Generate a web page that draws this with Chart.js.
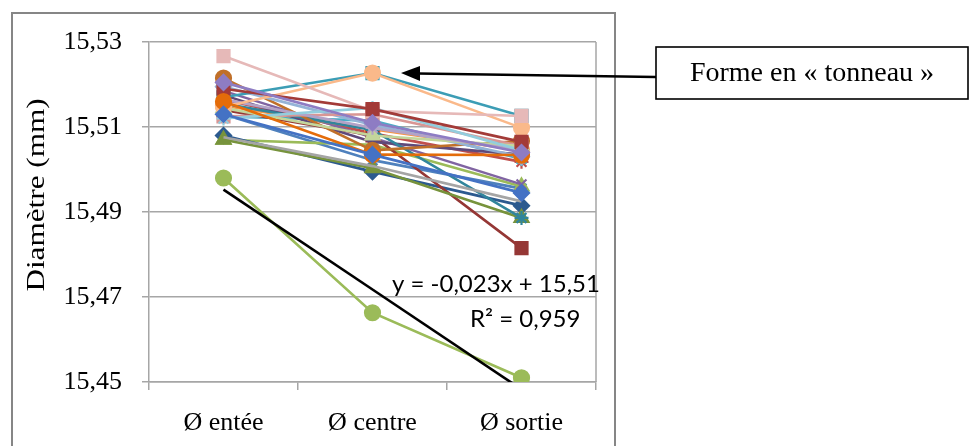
<!DOCTYPE html>
<html>
<head>
<meta charset="utf-8">
<script src="https://cdn.jsdelivr.net/npm/chart.js@4"></script>
<style>
  html, body { margin: 0; padding: 0; background: #fff; }
  #wrap { width: 970px; height: 446px; }
</style>
</head>
<body>
<div id="wrap"><canvas id="myChart" width="970" height="446"></canvas></div>
<script>
// categories and y ticks
const categories = ['Ø entée', 'Ø centre', 'Ø sortie'];
const yTicks = [15.45, 15.47, 15.49, 15.51, 15.53];
const trendLabel = ['y = -0,023x + 15,51', 'R² = 0,959'];
const calloutText = 'Forme en « tonneau »';

// diameters per part (entée, centre, sortie)
const s01 = [15.5130, 15.5022, 15.4955];
const s02 = [15.5165, 15.5085, 15.5018];
const s03 = [15.5070, 15.5058, 15.4960];
const s04 = [15.5185, 15.5075, 15.4965];
const s05 = [15.5125, 15.5115, 15.5025];
const s06 = [15.5150, 15.5095, 15.5045];
const s07 = [15.5080, 15.4995, 15.4915];
const s08 = [15.5140, 15.5080, 15.4815];
const s09 = [15.5070, 15.5003, 15.4886];
const s10 = [15.5175, 15.5065, 15.5035];
const s11 = [15.5155, 15.5093, 15.4886];
const s12 = [15.5215, 15.5045, 15.5067];
const s13 = [15.5195, 15.5105, 15.5030];
const s14 = [15.5125, 15.5130, 15.5055];
const s15 = [15.5145, 15.5080, 15.5055];
const s16 = [15.5165, 15.5098, 15.5045];
const s17 = [15.5120, 15.5145, 15.5045];
const s18 = [15.5170, 15.5227, 15.5126];
const s19 = [15.5147, 15.5227, 15.5098];
const s20 = [15.5267, 15.5138, 15.5126];
const s21 = [15.5076, 15.5008, 15.4925];
const s22 = [15.5190, 15.5142, 15.5065];
const s23 = [15.5160, 15.5035, 15.5034];
const s24 = [15.5205, 15.5110, 15.5040];
const s25 = [15.5130, 15.5035, 15.4945];
const s26 = [15.4980, 15.4663, 15.4510];

const allSeries = [s01, s02, s03, s04, s05, s06, s07, s08, s09, s10, s11, s12, s13,
  s14, s15, s16, s17, s18, s19, s20, s21, s22, s23, s24, s25, s26];

// look of each series (Excel-like automatic colours / markers)
const colors = ['#4F81BD', '#C0504D', '#9BBB59', '#8064A2', '#4BACC6', '#F79646',
  '#2C5A8F', '#953735', '#77933C', '#5F497A', '#31859C', '#C0702A',
  '#95B3D7', '#D99694', '#C3D69B', '#B3A2C7', '#93CDDD', '#3C9DB5',
  '#FAB98A', '#E6B9B8', '#A5A5A5', '#A33B38', '#E46C0A', '#8E7CC3',
  '#4472C4', '#9BBB59'];
const markers = ['crossRot', 'star', 'triangle', 'crossRot', 'star', 'circle',
  'rectRot', 'rect', 'triangle', 'crossRot', 'star', 'circle',
  'rectRot', 'rect', 'triangle', 'star', 'star', 'rect',
  'circle', 'rect', false, 'rect', 'circle', 'rectRot',
  'rectRot', 'circle'];
const markerSize = { circle: 7.5, rect: 8.5, rectRot: 7.5, triangle: 8, crossRot: 7, star: 7 };

// linear trend of the lowest series (as Excel does)
const trendSrc = s26;
const xs = [1, 2, 3];
const mx = xs.reduce((a, b) => a + b, 0) / xs.length;
const my = trendSrc.reduce((a, b) => a + b, 0) / trendSrc.length;
let sxy = 0, sxx = 0;
xs.forEach((x, i) => { sxy += (x - mx) * (trendSrc[i] - my); sxx += (x - mx) * (x - mx); });
const slope = sxy / sxx;
const inter = my - slope * mx;
const trend = xs.map(x => inter + slope * x);

const datasets = allSeries.map((d, i) => ({
  label: 'Série ' + (i + 1),
  data: d,
  borderColor: colors[i],
  backgroundColor: colors[i],
  borderWidth: 2.6,
  pointStyle: markers[i] || 'circle',
  pointRadius: markers[i] ? markerSize[markers[i]] : 0,
  pointBorderWidth: 2.2,
  pointBorderColor: colors[i],
  pointBackgroundColor: colors[i],
  order: allSeries.length - i + 1
}));
datasets.push({
  label: 'Linéaire',
  data: trend,
  borderColor: '#000',
  borderWidth: 2.6,
  pointRadius: 0,
  order: 1
});

const gridColor = '#a6a6a6';

const decor = {
  id: 'decor',
  afterDraw(chart) {
    const ctx = chart.ctx;
    const a = chart.chartArea;
    ctx.save();
    // outer chart frame
    ctx.strokeStyle = '#868686';
    ctx.lineWidth = 2;
    ctx.strokeRect(12, 13, 603, 470);
    // plot area right border
    ctx.strokeStyle = gridColor;
    ctx.lineWidth = 1.5;
    ctx.beginPath();
    ctx.moveTo(a.right, a.top);
    ctx.lineTo(a.right, a.bottom);
    ctx.stroke();

    // y axis title
    ctx.fillStyle = '#000';
    ctx.font = '26px "Liberation Serif"';
    ctx.textAlign = 'center';
    ctx.textBaseline = 'middle';
    ctx.save();
    ctx.translate(37, 195);
    ctx.rotate(-Math.PI / 2);
    ctx.scale(1.2, 1);
    ctx.fillText('Diamètre (mm)', 0, 0);
    ctx.restore();

    // trendline equation
    ctx.font = '24px Lato';
    ctx.textAlign = 'left';
    ctx.textBaseline = 'alphabetic';
    ctx.fillText(trendLabel[0], 392, 292);
    ctx.fillText(trendLabel[1], 470, 327);

    // callout box
    ctx.strokeStyle = '#000';
    ctx.lineWidth = 1.6;
    ctx.strokeRect(656, 47, 312, 52);
    ctx.font = '28px "Liberation Serif"';
    ctx.textAlign = 'center';
    ctx.textBaseline = 'middle';
    ctx.fillText(calloutText, 812, 74);

    // arrow
    ctx.lineWidth = 2.3;
    ctx.beginPath();
    ctx.moveTo(656, 77);
    ctx.lineTo(418, 73.5);
    ctx.stroke();
    ctx.beginPath();
    ctx.moveTo(401, 73);
    ctx.lineTo(420, 66);
    ctx.lineTo(420, 81);
    ctx.closePath();
    ctx.fill();
    ctx.restore();
  }
};

const config = {
  type: 'line',
  data: { labels: categories, datasets },
  options: {
    responsive: false,
    animation: false,
    layout: { padding: { left: 0, top: 42, right: 374, bottom: 0 } },
    plugins: { legend: { display: false }, tooltip: { enabled: false } },
    elements: { line: { tension: 0 } },
    scales: {
      x: {
        offset: true,
        grid: { offset: true, drawOnChartArea: false, drawTicks: true, tickLength: 8, color: gridColor, lineWidth: 1.5 },
        border: { display: true, color: gridColor, width: 1.5 },
        ticks: { color: '#000', padding: 18, font: { family: 'Liberation Serif', size: 26 } },
        afterFit: s => { s.height = 64; }
      },
      y: {
        min: yTicks[0],
        max: yTicks[yTicks.length - 1],
        afterBuildTicks: s => { s.ticks = yTicks.map(v => ({ value: v })); },
        grid: { color: gridColor, lineWidth: 1.5, tickLength: 7 },
        border: { display: true, color: gridColor, width: 1.5 },
        ticks: {
          color: '#000',
          padding: 20,
          font: { family: 'Liberation Serif', size: 26 },
          callback: v => Number(v).toFixed(2).replace('.', ',')
        },
        afterFit: s => { s.width = 149; }
      }
    }
  },
  plugins: [decor]
};

const myChart = new Chart(document.getElementById('myChart'), config);
</script>
</body>
</html>
